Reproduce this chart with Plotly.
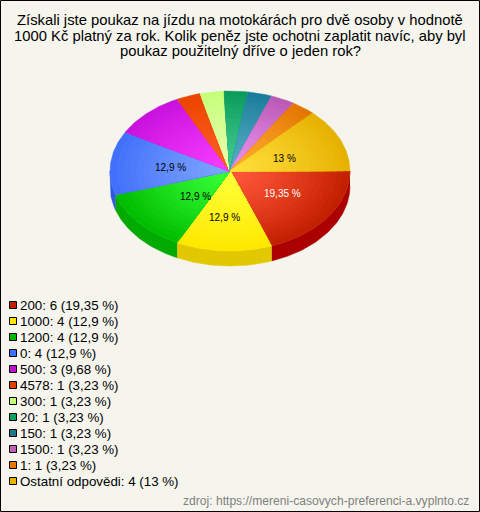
import numpy as np
import plotly.graph_objects as go

title_lines = [
    "Získali jste poukaz na jízdu na motokárách pro dvě osoby v hodnotě",
    "1000 Kč platný za rok. Kolik peněz jste ochotni zaplatit navíc, aby byl",
    "poukaz použitelný dříve o jeden rok?",
]
categories = ["200", "1000", "1200", "0", "500", "4578", "300", "20", "150", "1500", "1", "Ostatní odpovědi"]
counts = [6, 4, 4, 4, 3, 1, 1, 1, 1, 1, 1, 4]
percent_labels = ["19,35 %", "12,9 %", "12,9 %", "12,9 %", "9,68 %", "3,23 %",
                  "3,23 %", "3,23 %", "3,23 %", "3,23 %", "3,23 %", "13 %"]
source_text = "zdroj: https://mereni-casovych-preferenci-a.vyplnto.cz"

# colours: centre of the pie, outer edge, rim, legend swatch
inner_colors = [(255, 88, 56), (255, 255, 56), (56, 255, 56), (125, 165, 255), (245, 60, 255), (255, 95, 35),
                (232, 255, 175), (65, 205, 145), (85, 175, 195), (235, 145, 240), (255, 175, 50), (255, 222, 60)]
outer_colors = [(195, 32, 0), (255, 232, 0), (0, 190, 0), (66, 112, 250), (202, 18, 222), (235, 68, 0),
                (198, 255, 120), (12, 155, 90), (28, 125, 155), (188, 90, 182), (228, 118, 0), (230, 178, 0)]
rim_colors = ["#aa0000", "#e2c800", "#00aa00", "#3058e0", "#a000b0", "#c83800",
              "#a0d860", "#008048", "#106080", "#a04898", "#c06000", "#c09800"]
swatch_colors = ["#c02000", "#ffe800", "#00b800", "#4070ff", "#c010d0", "#e04000",
                 "#c8ff78", "#10a060", "#207890", "#c060b8", "#e87800", "#e8b400"]

BACKGROUND = "#f5f5ee"
FONT = "Liberation Sans"
CX, CY, RX, RY, DEPTH = 230, 171, 120, 80, 15
LAYERS = 18

# hand moved percent labels, in pixels
label_nudges = {0: (3, -3), 1: (-2, 4), 2: (11, -4), 3: (0, -2), 11: (-1, 0)}


def ring_points(start, stop, scale=1.0, dy=0):
    t = np.linspace(start, stop, max(int(abs(stop - start) * 60), 2))
    return CX + RX * scale * np.cos(t), CY + dy + RY * scale * np.sin(t)


def mix(a, b, f):
    return "rgb(%d,%d,%d)" % tuple(round(a[i] + (b[i] - a[i]) * f) for i in range(3))


fig = go.Figure()

shares = np.array(counts) / sum(counts) * 2 * np.pi
stops = np.concatenate([[0], np.cumsum(shares)])

# side of the pie, only the front half can be seen
for i, name in enumerate(categories):
    start, stop = stops[i], min(stops[i + 1], np.pi)
    if start >= np.pi:
        continue
    x1, y1 = ring_points(start, stop)
    x2, y2 = ring_points(stop, start, dy=DEPTH)
    fig.add_trace(go.Scatter(
        x=np.concatenate([x1, x2]), y=np.concatenate([y1, y2]),
        mode="lines", fill="toself", fillcolor=rim_colors[i],
        line=dict(width=0.5, color=rim_colors[i]), hoverinfo="skip",
    ))

# top of the pie, the radial shading is stacked wedges from big to small
for i, name in enumerate(categories):
    for layer in range(LAYERS):
        f = 1 - layer / LAYERS
        x, y = ring_points(stops[i], stops[i + 1], scale=f)
        color = mix(inner_colors[i], outer_colors[i], f ** 1.3)
        fig.add_trace(go.Scatter(
            x=np.concatenate([[CX], x, [CX]]), y=np.concatenate([[CY], y, [CY]]),
            mode="lines", fill="toself", fillcolor=color,
            line=dict(width=0.4, color=color), name=name, hoverinfo="name",
        ))

annotations = []

# percent labels inside the big slices
for i, name in enumerate(categories):
    if counts[i] < 4:
        continue
    mid = (stops[i] + stops[i + 1]) / 2
    nudge = label_nudges.get(i, (0, 0))
    annotations.append(dict(
        x=CX + RX * 0.5 * np.cos(mid) + nudge[0], y=CY + RY * 0.5 * np.sin(mid) + 3 + nudge[1],
        text=percent_labels[i], showarrow=False,
        font=dict(family=FONT, size=10, color="#ffffff" if i == 0 else "#000000"),
    ))

for i, line in enumerate(title_lines):
    annotations.append(dict(x=240, y=20 + i * 15.5, text=line, showarrow=False,
                            font=dict(family=FONT, size=14.8, color="#000000")))

legend_y = [305 + i * 16 for i in range(len(categories))]
legend_text = ["%s: %d (%s)" % (c, n, p) for c, n, p in zip(categories, counts, percent_labels)]
fig.add_trace(go.Scatter(
    x=[13] * len(categories), y=legend_y, mode="markers",
    marker=dict(symbol="square", size=7, color=swatch_colors, line=dict(width=1, color="#000000")),
    hoverinfo="skip",
))
for text, y in zip(legend_text, legend_y):
    annotations.append(dict(x=18, y=y, text=text, showarrow=False, xanchor="left",
                            font=dict(family=FONT, size=13.33, color="#000000")))

annotations.append(dict(x=471, y=501, text=source_text, showarrow=False, xanchor="right",
                        font=dict(family=FONT, size=12.1, color="#808080")))

fig.update_layout(
    width=480, height=512, margin=dict(l=0, r=0, t=0, b=0),
    paper_bgcolor=BACKGROUND, plot_bgcolor=BACKGROUND, showlegend=False,
    xaxis=dict(range=[0, 480], visible=False, fixedrange=True),
    yaxis=dict(range=[512, 0], visible=False, fixedrange=True),
    annotations=annotations,
    shapes=[dict(type="rect", x0=0.5, x1=479.5, y0=0.5, y1=511.5, line=dict(color="#000000", width=1))],
)

fig.write_html("out.html", config=dict(displayModeBar=False),
               post_script="document.body.style.margin='0';")
